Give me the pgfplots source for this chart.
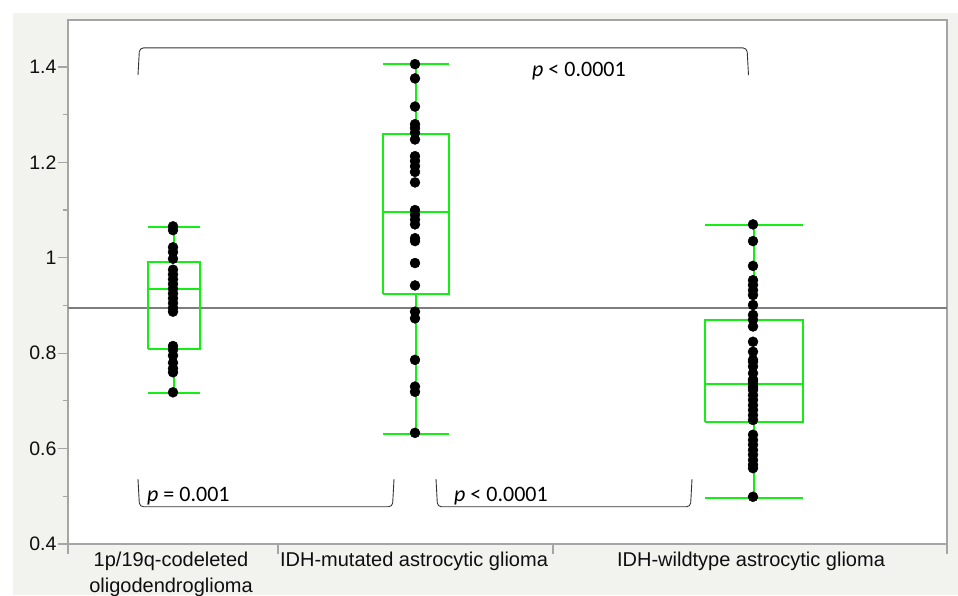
\documentclass[border=0pt]{standalone}
\usepackage{pgfplots}
\pgfplotsset{compat=1.18}
\usepackage{pgfplotstable}
\usepackage{fontspec}
\setmainfont{Liberation Sans}
\newfontfamily\pfont{Carlito}

\definecolor{bggray}{RGB}{242,242,238}
\definecolor{framegray}{RGB}{165,165,165}
\definecolor{boxgreen}{RGB}{20,238,20}
\definecolor{refgray}{RGB}{125,125,125}
\definecolor{txt}{RGB}{15,15,15}

% x = horizontal position of the group, y = ratio
\pgfplotstableread{
x y
173 1.066
173 1.058
173 1.022
173 1.012
173 0.998
173 0.975
173 0.965
173 0.955
173 0.945
173 0.935
173 0.925
173 0.915
173 0.905
173 0.895
173 0.887
173 0.815
173 0.807
173 0.795
173 0.780
173 0.768
173 0.760
173 0.718
}\groupA

\pgfplotstableread{
x y
415 1.406
415 1.376
415 1.317
415 1.280
415 1.272
415 1.262
415 1.248
415 1.213
415 1.203
415 1.192
415 1.180
415 1.158
415 1.100
415 1.090
415 1.080
415 1.070
415 1.041
415 1.035
415 0.989
415 0.942
415 0.887
415 0.873
415 0.786
415 0.730
415 0.719
415 0.633
}\groupB

\pgfplotstableread{
x y
753 1.070
753 1.035
753 0.983
753 0.953
753 0.943
753 0.932
753 0.922
753 0.901
753 0.880
753 0.870
753 0.856
753 0.824
753 0.803
753 0.786
753 0.782
753 0.772
753 0.758
753 0.745
753 0.740
753 0.733
753 0.728
753 0.723
753 0.712
753 0.702
753 0.691
753 0.681
753 0.670
753 0.660
753 0.629
753 0.618
753 0.608
753 0.597
753 0.587
753 0.576
753 0.566
753 0.559
753 0.499
}\groupC

\begin{document}
\begin{tikzpicture}
\useasboundingbox (0,0) rectangle (958pt,595pt);
\fill[bggray] (13pt,0) rectangle (958pt,582pt);
\begin{axis}[
  at={(68pt,51pt)}, anchor=south west,
  scale only axis, width=879pt, height=524pt,
  xmin=68, xmax=947, ymin=0.4, ymax=1.4985,
  axis background/.style={fill=white},
  axis line style={framegray, line width=1.6pt},
  tick pos=left, tick align=outside,
  major tick length=10pt, minor tick length=5pt,
  every tick/.style={framegray, line width=1.2pt},
  ytick={0.4,0.6,0.8,1,1.2,1.4},
  yticklabels={0.4,0.6,0.8,1,1.2,1.4},
  minor ytick={0.5,0.7,0.9,1.1,1.3},
  xtick={68,278,553,947}, xticklabels={},
  extra x ticks={171,414,751},
  extra x tick labels={{1p/19q-codeleted\\[3pt]oligodendroglioma},{IDH-mutated astrocytic glioma},{IDH-wildtype astrocytic glioma}},
  extra x tick style={major tick length=0pt, tick label style={align=center, font=\fontsize{20}{23}\selectfont, yshift=-4pt}},
  yticklabel style={font=\fontsize{19.5}{22}\selectfont, xshift=2pt},
  ticklabel style={text=txt},
  unbounded coords=jump,
  clip=false,
]
% reference line
\addplot[refgray, line width=1.5pt] coordinates {(68,0.895) (947,0.895)};

% individual values
\addplot[only marks, mark=*, mark size=5pt, black] table[x=x, y=y] {\groupA};
\addplot[only marks, mark=*, mark size=5pt, black] table[x=x, y=y] {\groupB};
\addplot[only marks, mark=*, mark size=5pt, black] table[x=x, y=y] {\groupC};

% boxes: outline, median, whiskers and caps
\addplot[boxgreen, line width=2pt] coordinates {
(147.5,0.809) (199.5,0.809) (199.5,0.992) (147.5,0.992) (147.5,0.809) (nan,nan)
(147.5,0.935) (199.5,0.935) (nan,nan)
(173.5,0.992) (173.5,1.065) (nan,nan) (147.5,1.065) (199.5,1.065) (nan,nan)
(173.5,0.809) (173.5,0.717) (nan,nan) (147.5,0.717) (199.5,0.717)
};
\addplot[boxgreen, line width=2pt] coordinates {
(383,0.925) (449,0.925) (449,1.260) (383,1.260) (383,0.925) (nan,nan)
(383,1.097) (449,1.097) (nan,nan)
(416,1.260) (416,1.407) (nan,nan) (383,1.407) (449,1.407) (nan,nan)
(416,0.925) (416,0.631) (nan,nan) (383,0.631) (449,0.631)
};
\addplot[boxgreen, line width=2pt] coordinates {
(705,0.656) (803,0.656) (803,0.870) (705,0.870) (705,0.656) (nan,nan)
(705,0.736) (803,0.736) (nan,nan)
(754,0.870) (754,1.069) (nan,nan) (705,1.069) (803,1.069) (nan,nan)
(754,0.656) (754,0.497) (nan,nan) (705,0.497) (803,0.497)
};

% significance brackets
\draw[black!80, line width=0.9pt, rounded corners=4pt]
  (axis cs:138,1.383) -- (axis cs:139.5,1.440) -- (axis cs:747,1.440) -- (axis cs:748.5,1.383);
\node[anchor=base west, inner sep=0pt, text=black, font=\pfont\fontsize{22}{24}\selectfont]
  at (axis cs:532,1.381) {\textit{p} < 0.0001};

\draw[black!80, line width=0.9pt, rounded corners=4pt]
  (axis cs:138,0.536) -- (axis cs:139.5,0.478) -- (axis cs:392.5,0.478) -- (axis cs:394,0.536);
\node[anchor=base west, inner sep=0pt, text=black, font=\pfont\fontsize{22}{24}\selectfont]
  at (axis cs:147,0.489) {\textit{p} = 0.001};

\draw[black!80, line width=0.9pt, rounded corners=4pt]
  (axis cs:436,0.536) -- (axis cs:437.5,0.478) -- (axis cs:690.5,0.478) -- (axis cs:692,0.536);
\node[anchor=base west, inner sep=0pt, text=black, font=\pfont\fontsize{22}{24}\selectfont]
  at (axis cs:454,0.489) {\textit{p} < 0.0001};
\end{axis}
\end{tikzpicture}
\end{document}
